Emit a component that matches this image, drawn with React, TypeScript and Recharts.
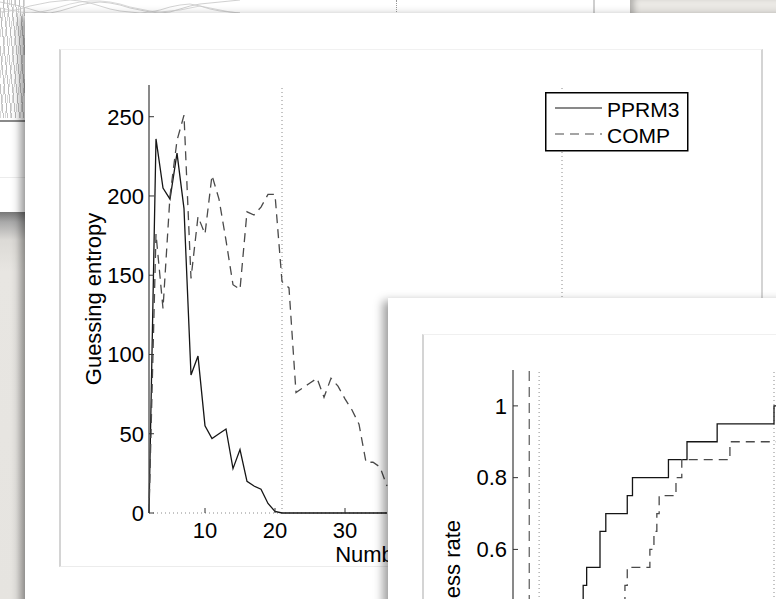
import React from "react";
import { LineChart, Line, XAxis, YAxis, ReferenceLine, Legend, Label } from "recharts";

const FONT = '"Liberation Sans", Arial, Helvetica, sans-serif';

// upper figure: guessing entropy per number of traces
const traceCounts = [2, 3, 4, 5, 6, 7, 8, 9, 10, 11, 12, 13, 14, 15, 16, 17, 18, 19, 20, 21, 22, 23, 24, 25, 26, 27, 28, 29, 30, 31, 32, 33, 34, 35, 36];
const pprm3Entropy = [0, 236, 205, 198, 227, 192, 87, 99, 55, 47, 50, 53, 28, 40, 20, 17, 15, 6, 1, 0, 0, 0, 0, 0, 0, 0, 0, 0, 0, 0, 0, 0, 0, 0, 0];
const compEntropy = [0, 176, 129, 200, 235, 251, 148, 187, 176, 213, 198, 172, 144, 141, 190, 188, 193, 201, 201, 146, 142, 76, 79, 82, 85, 73, 85, 80, 72, 65, 56, 32, 32, 29, 17];
const entropyTicksX = [10, 20, 30, 40, 50, 60, 70, 80];
const entropyTicksY = [0, 50, 100, 150, 200, 250];
const entropyMarks = [21, 61];

// lower figure: success rate, step change points
const pprm3StepX = [9, 12.1, 12.7, 15, 16, 19.7, 20.6, 26.8, 30, 35.2, 45, 50];
const pprm3Success = [0.4, 0.5, 0.55, 0.65, 0.7, 0.75, 0.8, 0.85, 0.9, 0.95, 1, 1];
const compStepX = [9, 19.3, 19.7, 23.6, 24.3, 24.8, 25.2, 28.1, 29.1, 37.4, 50];
const compSuccess = [0.4, 0.5, 0.55, 0.6, 0.65, 0.7, 0.75, 0.8, 0.85, 0.9, 0.9];
const successTicksY = [0.6, 0.8, 1];
const successMarks = [4.5, 45];
const successDashMark = 2.8;

// faint traces of the picture lying underneath
const bgX = [0, 10, 20, 30, 40, 50, 60, 70, 80, 90, 100, 110, 120, 130, 140, 150, 160, 170, 180, 190, 200, 210, 220, 230, 240];
const bgA = [2, 4, 6, 9, 12, 13, 11, 8, 5, 3, 2, 3, 5, 8, 10, 12, 13, 12, 9, 6, 4, 3, 2, 1, 0];
const bgB = [8, 10, 12, 13, 12, 10, 7, 4, 2, 1, 1, 2, 4, 7, 9, 11, 12, 11, 10, 8, 6, 8, 10, 12, 13];
const bgC = [12, 11, 9, 6, 4, 2, 1, 0, 1, 3, 6, 9, 11, 12, 13, 12, 10, 7, 5, 4, 6, 9, 11, 12, 13];

const seriesNames = ["PPRM3", "COMP"];
const seriesStyle: Record<string, { stroke: string; dash?: string }> = {
  PPRM3: { stroke: "#151515" },
  COMP: { stroke: "#4a4a4a", dash: "9 6" },
};

const tickStyle = { fill: "#000", fontSize: 22, fontFamily: FONT };
const labelStyle = { textAnchor: "middle" as const, fontSize: 22, fontFamily: FONT, fill: "#000" };

function EntropyLegend(props: any) {
  const items = [...(props.payload ?? [])].sort(
    (a: any, b: any) => seriesNames.indexOf(a.value) - seriesNames.indexOf(b.value)
  );
  return (
    <svg width={144} height={60} style={{ display: "block" }}>
      <rect x={0.75} y={0.75} width={142} height={58} fill="#fff" stroke="#000" strokeWidth={1.5} />
      {items.map((it: any, i: number) => {
        const s = seriesStyle[it.value] ?? { stroke: "#000" };
        return (
          <g key={it.value}>
            <line x1={10} x2={57} y1={16 + i * 26} y2={16 + i * 26} stroke={s.stroke} strokeWidth={1.2} strokeDasharray={s.dash} />
            <text x={62} y={24.5 + i * 26.5} fontSize={21} fontFamily={FONT} fill="#000">
              {it.value}
            </text>
          </g>
        );
      })}
    </svg>
  );
}

const abs = (s: React.CSSProperties): React.CSSProperties => ({ position: "absolute", ...s });

export default function App() {
  const entropyData = traceCounts.map((x, i) => ({ x, pprm3: pprm3Entropy[i], comp: compEntropy[i] }));
  const pprm3Steps = pprm3StepX.map((x, i) => ({ x, v: pprm3Success[i] }));
  const compSteps = compStepX.map((x, i) => ({ x, v: compSuccess[i] }));
  const bgData = bgX.map((x, i) => ({ x, a: bgA[i], b: bgB[i], c: bgC[i] }));

  return (
    <div style={{ position: "fixed", left: 0, top: 0, width: 776, height: 599, overflow: "hidden", background: "#fff" }}>
      {/* underlying page */}
      <div
        style={abs({
          left: 0,
          top: 0,
          width: 26,
          height: 118,
          background:
            "repeating-linear-gradient(84deg, rgba(255,255,255,0) 0 3px, rgba(170,170,170,0.7) 3px 4px), repeating-linear-gradient(97deg, rgba(255,255,255,0) 0 4px, rgba(190,190,190,0.6) 4px 5px)",
        })}
      />
      <div style={abs({ left: 0, top: 0 })}>
        <LineChart width={240} height={14} data={bgData} margin={{ top: 0, right: 0, bottom: 0, left: 0 }}>
          <XAxis dataKey="x" type="number" domain={[0, 240]} hide />
          <YAxis domain={[0, 14]} reversed hide />
          <Line dataKey="a" stroke="#c4c4c4" strokeWidth={0.8} dot={false} isAnimationActive={false} />
          <Line dataKey="b" stroke="#cfcfcf" strokeWidth={0.8} dot={false} isAnimationActive={false} />
          <Line dataKey="c" stroke="#c8c8c8" strokeWidth={0.8} dot={false} isAnimationActive={false} />
        </LineChart>
      </div>
      <div style={abs({ left: 0, top: 120, width: 26, height: 2, background: "#8a8a8a" })} />
      <div style={abs({ left: 0, top: 177, width: 26, height: 1, background: "#ececec" })} />
      <div
        style={abs({
          left: 0,
          top: 212,
          width: 26,
          height: 387,
          background: "linear-gradient(#777 0px, #a9a9a9 10px, #dcdad6 28px, #e8e6e2 60px, #e6e4e0 100%)",
        })}
      />
      <div style={abs({ left: 396, top: 0, height: 12, borderLeft: "1px dotted #999" })} />
      <div style={abs({ left: 593, top: 0, width: 2, height: 14, background: "#cfcfcf" })} />
      <div
        style={abs({
          left: 630,
          top: 0,
          width: 146,
          height: 16,
          background: "#ebe9e5",
          boxShadow: "inset 7px 0 6px -3px rgba(0,0,0,0.25)",
        })}
      />

      {/* first sheet */}
      <div style={abs({ left: 25, top: 13, width: 800, height: 650, background: "#fff", boxShadow: "-7px 0 9px -3px rgba(0,0,0,0.45)" })} />
      <div
        style={abs({
          left: 59,
          top: 49,
          width: 700,
          height: 516,
          borderLeft: "2px solid #d4d4d4",
          borderRight: "2px solid #d4d4d4",
          borderTop: "1px solid #f1f1f1",
          borderBottom: "1px solid #ececec",
        })}
      />
      <div style={abs({ left: 0, top: 0 })}>
        <LineChart width={776} height={599} data={entropyData} margin={{ top: 85, right: 74, bottom: 56, left: 89 }}>
          <XAxis
            dataKey="x"
            type="number"
            domain={[2, 81]}
            ticks={entropyTicksX}
            axisLine={false}
            tickLine={{ stroke: "#333" }}
            tickSize={-5}
            tickMargin={14}
            tick={tickStyle}
            height={30}
          >
            <Label value="Number of traces" position="bottom" offset={3} dx={-6} style={labelStyle} />
          </XAxis>
          <YAxis
            domain={[0, 270]}
            ticks={entropyTicksY}
            axisLine={{ stroke: "#4a4a4a", strokeWidth: 1.3 }}
            tickLine={{ stroke: "#333" }}
            tickSize={-5}
            tickMargin={10}
            tick={tickStyle}
            width={60}
          >
            <Label value="Guessing entropy" angle={-90} position="insideLeft" offset={4} style={labelStyle} />
          </YAxis>
          <ReferenceLine y={0} stroke="#8a8a8a" strokeDasharray="1 3" />
          {entropyMarks.map((m) => (
            <ReferenceLine key={m} x={m} stroke="#8a8a8a" strokeDasharray="1 3" />
          ))}
          <Legend
            layout="horizontal"
            align="center"
            verticalAlign="middle"
            wrapperStyle={{ left: 545, top: 92, width: 144 }}
            content={EntropyLegend}
          />
          <Line
            name="PPRM3"
            dataKey="pprm3"
            type="linear"
            stroke={seriesStyle.PPRM3.stroke}
            strokeWidth={1.3}
            dot={false}
            isAnimationActive={false}
          />
          <Line
            name="COMP"
            dataKey="comp"
            type="linear"
            stroke={seriesStyle.COMP.stroke}
            strokeDasharray={seriesStyle.COMP.dash}
            strokeWidth={1.3}
            dot={false}
            isAnimationActive={false}
          />
        </LineChart>
      </div>

      {/* second sheet */}
      <div style={abs({ left: 388, top: 298, width: 420, height: 330, background: "#fff", boxShadow: "-8px 0 9px -3px rgba(0,0,0,0.38)" })} />
      <div
        style={abs({
          left: 422,
          top: 334,
          width: 420,
          height: 300,
          borderLeft: "2px solid #d4d4d4",
          borderTop: "1px solid #f0f0f0",
        })}
      />
      <div style={abs({ left: 0, top: 0 })}>
        <LineChart width={840} height={810} margin={{ top: 370, right: 37, bottom: 13, left: 453 }}>
          <XAxis dataKey="x" type="number" domain={[0, 50]} hide />
          <YAxis
            domain={[-0.09, 1.1]}
            ticks={successTicksY}
            tickFormatter={(v: number) => (v === 1 ? "1" : v.toFixed(1))}
            axisLine={{ stroke: "#4a4a4a", strokeWidth: 1.3 }}
            tickLine={{ stroke: "#333" }}
            tickSize={-5}
            tickMargin={11}
            tick={tickStyle}
            width={60}
          >
            <Label value="Success rate" angle={-90} position="insideLeft" offset={-1} style={labelStyle} />
          </YAxis>
          <ReferenceLine x={successDashMark} stroke="#5a5a5a" strokeWidth={1.2} strokeDasharray="10 6" />
          {successMarks.map((m) => (
            <ReferenceLine key={m} x={m} stroke="#8a8a8a" strokeDasharray="1 3" />
          ))}
          <Line
            data={pprm3Steps}
            dataKey="v"
            type="stepAfter"
            stroke={seriesStyle.PPRM3.stroke}
            strokeWidth={1.3}
            dot={false}
            isAnimationActive={false}
          />
          <Line
            data={compSteps}
            dataKey="v"
            type="stepAfter"
            stroke={seriesStyle.COMP.stroke}
            strokeDasharray={seriesStyle.COMP.dash}
            strokeWidth={1.3}
            dot={false}
            isAnimationActive={false}
          />
        </LineChart>
      </div>
    </div>
  );
}
